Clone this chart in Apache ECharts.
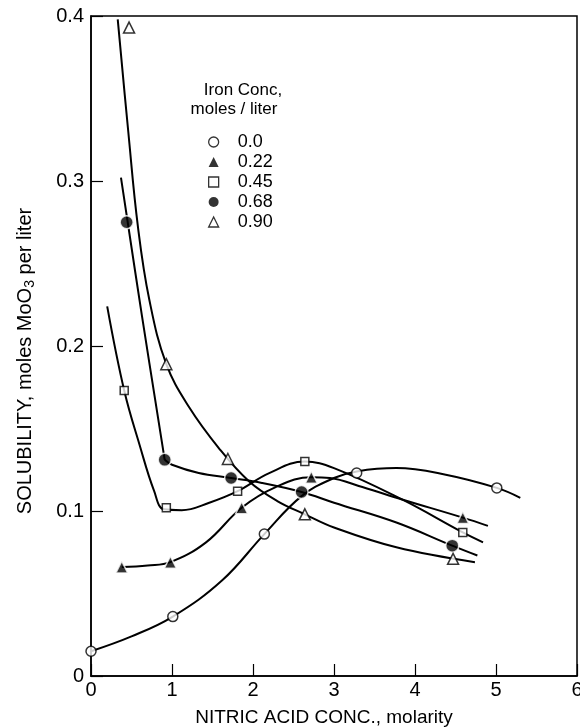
<!DOCTYPE html>
<html><head><meta charset="utf-8">
<script src="https://cdn.jsdelivr.net/npm/echarts@6/dist/echarts.min.js"></script>
<style>html,body{margin:0;padding:0;background:#fff}#c{width:580px;height:728px}</style>
</head><body><div id="c"></div>
<script>
// ---- tick labels / categories ----
const xTickLabels = ['0','1','2','3','4','5','6'];
const yTickLabels = ['0','0.1','0.2','0.3','0.4'];
const ironConc = ['0.0','0.22','0.45','0.68','0.90'];

// ---- measured data points [HNO3 molarity, solubility] ----
const points00 = [[0,0.015],[1.01,0.036],[2.14,0.086],[3.28,0.123],[5.01,0.114]];
const points22 = [[0.38,0.066],[0.98,0.069],[1.86,0.102],[2.72,0.1205],[4.59,0.096]];
const points45 = [[0.41,0.173],[0.93,0.102],[1.81,0.112],[2.64,0.130],[4.59,0.087]];
const points68 = [[0.44,0.275],[0.91,0.131],[1.73,0.120],[2.60,0.1115],[4.46,0.079]];
const points90 = [[0.47,0.393],[0.93,0.189],[1.69,0.1315],[2.64,0.098],[4.47,0.071]];

// ---- hand-drawn curves ----
const curve00 = [[0,0.015],[0.5,0.024],[1.01,0.036],[1.62,0.058],[2.14,0.086],[2.6,0.109],[3.0,0.120],[3.28,0.124],[3.77,0.126],[4.38,0.122],[5.01,0.114],[5.3,0.108]];
const curve22 = [[0.38,0.066],[0.7,0.067],[0.98,0.069],[1.42,0.081],[1.86,0.102],[2.28,0.1145],[2.72,0.1205],[2.95,0.120],[3.35,0.1145],[3.84,0.107],[4.59,0.096],[4.9,0.091]];
const curve45 = [[0.2,0.224],[0.41,0.173],[0.6,0.140],[0.78,0.112],[0.9,0.101],[1.12,0.1005],[1.46,0.105],[1.81,0.112],[2.2,0.123],[2.64,0.130],[3.0,0.126],[3.84,0.107],[4.59,0.087],[4.84,0.081]];
const curve68a = [[0.37,0.302],[0.63,0.218],[0.91,0.131]];
const curve68b = [[0.91,0.131],[1.0,0.128],[1.33,0.123],[1.73,0.120],[2.11,0.117],[2.6,0.1115],[3.0,0.105],[3.77,0.093],[4.46,0.079],[4.77,0.073]];
const curve90 = [[0.33,0.398],[0.46,0.330],[0.58,0.272],[0.72,0.228],[0.93,0.189],[1.21,0.163],[1.58,0.138],[1.95,0.118],[2.3,0.106],[2.64,0.098],[3.0,0.090],[3.77,0.078],[4.74,0.069]];

const FONT = 'Liberation Sans, Arial, sans-serif';
const chart = echarts.init(document.getElementById('c'), null, {renderer:'canvas'});

function curveSeries(data){
  return {type:'line', data:data, smooth:0.4, showSymbol:false, silent:true, z:2,
    lineStyle:{color:'#000', width:2}, legendHoverLink:false};
}
const filledStyle = {color:'#000', borderColor:'#fff', borderWidth:1.5};
const openStyle = {color:'#fff', borderColor:'#000', borderWidth:1.5};
function markSeries(name, data, symbol, size, filled){
  return {type:'scatter', name:name, data:data, symbol:symbol, symbolSize:size, z:5,
    itemStyle: filled ? filledStyle : openStyle};
}

chart.setOption({
  animation:false,
  backgroundColor:'#fff',
  grid:{left:91, right:3, top:16, bottom:52, show:true, borderColor:'#000', borderWidth:1.5, outerBoundsMode:'none'},
  xAxis:{type:'value', min:0, max:6, interval:1,
    name:'NITRIC ACID CONC., molarity', nameLocation:'middle', nameGap:32,
    nameTextStyle:{fontFamily:FONT, fontSize:19, color:'#000', padding:[0,20,0,0]},
    axisLine:{show:true, lineStyle:{color:'#000', width:1.5}},
    axisTick:{show:true, inside:true, length:12, lineStyle:{color:'#000', width:1.2}},
    axisLabel:{fontFamily:FONT, fontSize:20, color:'#000', margin:4,
      formatter:function(v){return xTickLabels[Math.round(v)];}},
    splitLine:{show:false}},
  yAxis:{type:'value', min:0, max:0.4, interval:0.1,
    name:'SOLUBILITY, moles MoO{sub|3} per liter', nameLocation:'middle', nameGap:54,
    nameTextStyle:{fontFamily:FONT, fontSize:20, color:'#000', lineHeight:24, padding:[0,30,0,0],
      rich:{sub:{fontFamily:FONT, fontSize:14, lineHeight:14, verticalAlign:'bottom', color:'#000'}}},
    axisLine:{show:true, lineStyle:{color:'#000', width:1.5}},
    axisTick:{show:true, inside:true, length:12, lineStyle:{color:'#000', width:1.2}},
    axisLabel:{fontFamily:FONT, fontSize:20, color:'#000', margin:7,
      formatter:function(v){return yTickLabels[Math.round(v*10)];}},
    splitLine:{show:false}},
  legend:{orient:'vertical', left:208, top:132, padding:0,
    data:[
      {name:ironConc[0], itemStyle:{color:'#fff', borderColor:'#000', borderWidth:1.3}},
      {name:ironConc[1], itemStyle:{color:'#000', borderWidth:0}},
      {name:ironConc[2], itemStyle:{color:'#fff', borderColor:'#000', borderWidth:1.3}},
      {name:ironConc[3], itemStyle:{color:'#000', borderWidth:0}},
      {name:ironConc[4], itemStyle:{color:'#fff', borderColor:'#000', borderWidth:1.3}}
    ],
    itemWidth:10, itemHeight:10, itemGap:0, selectedMode:false,
    textStyle:{fontFamily:FONT, fontSize:18, color:'#000', lineHeight:20, padding:[0,0,0,14]}},
  graphic:[
    {type:'text', x:243, y:90, style:{text:'Iron Conc,', fontFamily:FONT, fontSize:17, fill:'#000', textAlign:'center', textVerticalAlign:'middle'}},
    {type:'text', x:234, y:109, style:{text:'moles / liter', fontFamily:FONT, fontSize:17, fill:'#000', textAlign:'center', textVerticalAlign:'middle'}}
  ],
  series:[
    curveSeries(curve00), curveSeries(curve22), curveSeries(curve45),
    curveSeries(curve68a), curveSeries(curve68b), curveSeries(curve90),
    markSeries(ironConc[0], points00, 'circle', 10, false),
    markSeries(ironConc[1], points22, 'triangle', 12, true),
    markSeries(ironConc[2], points45, 'rect', 8, false),
    markSeries(ironConc[3], points68, 'circle', 13, true),
    markSeries(ironConc[4], points90, 'triangle', 11, false)
  ]
});
</script></body></html>
